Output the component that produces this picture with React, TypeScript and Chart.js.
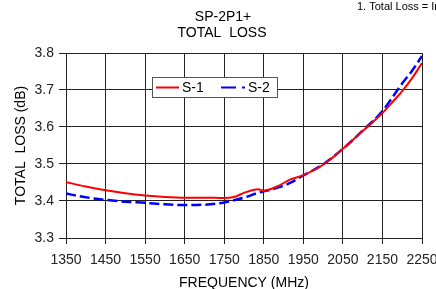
import React, { useEffect, useRef } from "react";
import { Chart, registerables } from "chart.js";

Chart.register(...registerables);

const freq = [1350, 1400, 1450, 1500, 1550, 1600, 1650, 1700, 1750, 1775, 1800, 1835, 1850, 1885, 1915, 1950, 2000, 2050, 2100, 2150, 2175, 2200, 2225, 2250];
const s1 = [3.451, 3.439, 3.429, 3.421, 3.415, 3.411, 3.409, 3.409, 3.408, 3.411, 3.422, 3.432, 3.428, 3.44, 3.457, 3.47, 3.498, 3.541, 3.589, 3.638, 3.667, 3.697, 3.732, 3.773];
const s2 = [3.42, 3.41, 3.403, 3.398, 3.395, 3.391, 3.389, 3.39, 3.396, 3.402, 3.409, 3.422, 3.426, 3.436, 3.448, 3.469, 3.499, 3.541, 3.59, 3.643, 3.68, 3.718, 3.752, 3.792];
const seriesNames = ["S-1", "S-2"];
const titleLines = ["SP-2P1+", "TOTAL  LOSS"];
const xTitle = "FREQUENCY (MHz)";
const yTitle = "TOTAL  LOSS (dB)";
const noteText = "1. Total Loss = Insertion Loss + Mismatch Loss";

const FONT = '"Liberation Sans", Arial, sans-serif';

const overlay = {
  id: "overlay",
  afterDraw(chart: any) {
    const { ctx, chartArea } = chart;
    ctx.save();
    ctx.fillStyle = "#000";
    // note top right
    ctx.font = `11px ${FONT}`;
    ctx.textAlign = "left";
    ctx.textBaseline = "alphabetic";
    ctx.fillText(noteText, 357, 9.5);
    // title
    ctx.font = `14px ${FONT}`;
    ctx.textAlign = "center";
    ctx.textBaseline = "middle";
    ctx.fillText(titleLines[0], 223, 17);
    ctx.fillText(titleLines[1], 222, 33);
    // x title
    const cx = (chartArea.left + chartArea.right) / 2;
    ctx.fillText(xTitle, cx, 283);
    // y title
    ctx.save();
    ctx.translate(21, (chartArea.top + chartArea.bottom) / 2);
    ctx.rotate(-Math.PI / 2);
    ctx.fillText(yTitle, 0, 0);
    ctx.restore();
    // legend
    const bx = 152.5, by = 77.5, bw = 125, bh = 20;
    ctx.fillStyle = "#fff";
    ctx.fillRect(bx, by, bw, bh);
    ctx.strokeStyle = "#555";
    ctx.lineWidth = 1;
    ctx.strokeRect(bx, by, bw, bh);
    const ly = by + bh / 2;
    ctx.lineWidth = 2;
    ctx.strokeStyle = "#ff0000";
    ctx.beginPath();
    ctx.moveTo(156, ly);
    ctx.lineTo(179, ly);
    ctx.stroke();
    ctx.strokeStyle = "#0000ff";
    ctx.setLineDash([15, 6]);
    ctx.beginPath();
    ctx.moveTo(221, ly);
    ctx.lineTo(245, ly);
    ctx.stroke();
    ctx.setLineDash([]);
    ctx.fillStyle = "#000";
    ctx.font = `14px ${FONT}`;
    ctx.textAlign = "left";
    ctx.textBaseline = "middle";
    ctx.fillText(seriesNames[0], 182, ly + 0.5);
    ctx.fillText(seriesNames[1], 248, ly + 0.5);
    ctx.restore();
  },
};

export default function App() {
  const ref = useRef<HTMLCanvasElement>(null);
  useEffect(() => {
    if (!ref.current) return;
    const chart = new Chart(ref.current, {
      type: "line",
      data: {
        datasets: [
          {
            label: seriesNames[0],
            data: freq.map((f, i) => ({ x: f, y: s1[i] })),
            borderColor: "#ff0000",
            borderWidth: 2,
            pointRadius: 0,
            cubicInterpolationMode: "monotone",
          },
          {
            label: seriesNames[1],
            data: freq.map((f, i) => ({ x: f, y: s2[i] })),
            borderColor: "#0000ff",
            borderWidth: 2.5,
            borderDash: [10, 4],
            pointRadius: 0,
            cubicInterpolationMode: "monotone",
          },
        ],
      },
      options: {
        animation: false,
        responsive: false,
        layout: { padding: { top: 53, right: 14, left: 0, bottom: 0 } },
        plugins: { legend: { display: false }, title: { display: false }, tooltip: { enabled: false } },
        scales: {
          x: {
            type: "linear",
            min: 1350,
            max: 2250,
            border: { color: "#222", width: 1 },
            grid: { color: "#222", lineWidth: 1, tickLength: 6, drawTicks: true },
            ticks: {
              stepSize: 100,
              color: "#222",
              font: { family: FONT, size: 14 },
              padding: 8,
              maxRotation: 0,
              autoSkip: false,
              callback: (v: any) => String(v),
            },
            afterFit: (s: any) => {
              s.height = 51;
              s.paddingLeft = 0;
              s.paddingRight = 0;
            },
          },
          y: {
            min: 3.3,
            max: 3.8,
            border: { color: "#222", width: 1 },
            grid: { color: "#222", lineWidth: 1, tickLength: 7 },
            ticks: {
              stepSize: 0.1,
              color: "#222",
              font: { family: FONT, size: 14 },
              padding: 5,
              callback: (v: any) => Number(v).toFixed(1),
            },
            afterFit: (s: any) => {
              s.width = 66;
              s.paddingTop = 0;
              s.paddingBottom = 0;
            },
          },
        },
      },
      plugins: [overlay],
    });
    return () => chart.destroy();
  }, []);
  return (
    <div style={{ position: "fixed", left: 0, top: 0, width: 436, height: 289, background: "#fff" }}>
      <canvas ref={ref} width={436} height={289} style={{ width: 436, height: 289 }} />
    </div>
  );
}
